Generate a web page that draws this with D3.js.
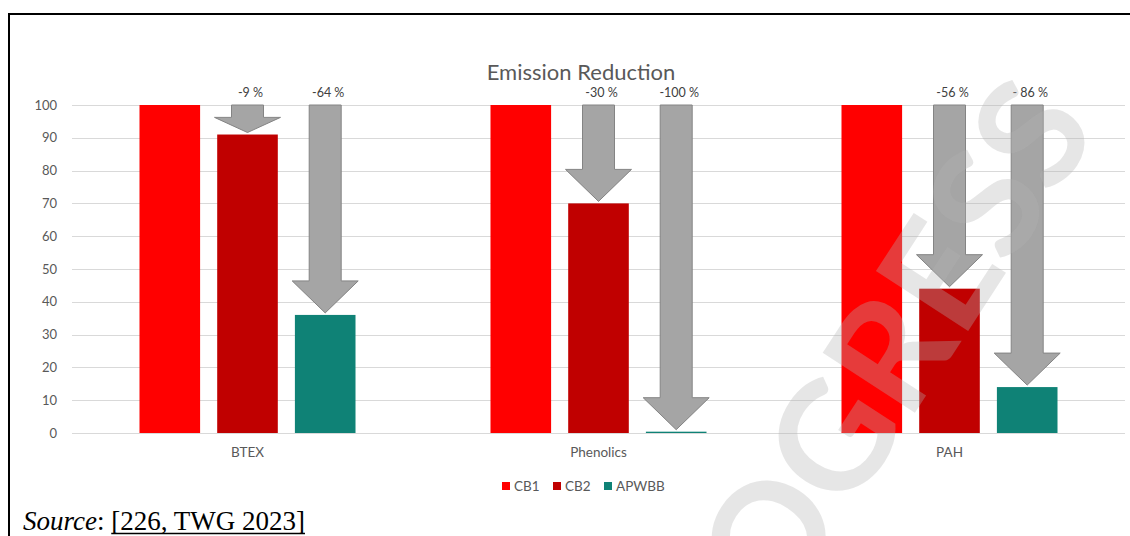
<!DOCTYPE html>
<html>
<head>
<meta charset="utf-8">
<script src="https://cdn.jsdelivr.net/npm/d3@7"></script>
<style>
  html, body { margin: 0; padding: 0; background: #fff; }
  svg { display: block; }
</style>
</head>
<body>
<svg id="chart" width="1130" height="536"></svg>
<script>
// ---- Data ----
const categories = ["BTEX", "Phenolics", "PAH"];
const seriesNames = ["CB1", "CB2", "APWBB"];
const cb1Values = [100, 100, 100];
const cb2Values = [91, 70, 44];
const apwbbValues = [36, 0.4, 14];
const cb2Labels = ["-9 %", "-30 %", "-56 %"];
const apwbbLabels = ["-64 %", "-100 %", "- 86 %"];
const yTicks = [0, 10, 20, 30, 40, 50, 60, 70, 80, 90, 100];
const titleText = "Emission Reduction";
const watermarkText = "PROGRESS";

const colors = { CB1: "#FF0000", CB2: "#C00000", APWBB: "#0F8276" };
const seriesValues = { CB1: cb1Values, CB2: cb2Values, APWBB: apwbbValues };

const svg = d3.select("#chart");
const font = "Lato, 'Open Sans', sans-serif";

// frame
svg.append("rect").attr("x", 9).attr("y", 14).attr("width", 1300).attr("height", 700)
  .attr("fill", "none").attr("stroke", "#000").attr("stroke-width", 2);

// scales
const x0 = d3.scaleBand().domain(categories).range([72, 1125])
  .paddingInner(0.3846).paddingOuter(0.1923);
const x1 = d3.scaleBand().domain(seriesNames).range([0, x0.bandwidth()]).paddingInner(0.22);
const y = d3.scaleLinear().domain([0, 100]).range([433, 105]);

// gridlines
svg.append("g").selectAll("line").data(yTicks).join("line")
  .attr("x1", 72).attr("x2", 1125)
  .attr("y1", d => Math.round(y(d)) + 0.5).attr("y2", d => Math.round(y(d)) + 0.5)
  .attr("stroke", "#D9D9D9").attr("stroke-width", 1);

// y axis labels
const yAxis = d3.axisLeft(y).tickValues(yTicks).tickSize(0).tickPadding(0);
const yg = svg.append("g").attr("transform", "translate(57,0)").call(yAxis);
yg.select(".domain").remove();
yg.selectAll("text").attr("font-family", font).attr("font-size", 13).attr("fill", "#595959");

// x axis labels
const xAxis = d3.axisBottom(x0).tickSize(0).tickPadding(0);
const xg = svg.append("g").attr("transform", "translate(0,447)").call(xAxis);
xg.select(".domain").remove();
xg.selectAll("text").attr("font-family", font).attr("font-size", 13.5).attr("fill", "#595959");

// title
svg.append("text").attr("x", 581).attr("y", 80).attr("text-anchor", "middle")
  .attr("font-family", font).attr("font-size", 22).attr("fill", "#595959").text(titleText);

// bars
const rows = [];
categories.forEach((c, i) => seriesNames.forEach(s => rows.push({ cat: c, s, v: seriesValues[s][i] })));
svg.append("g").selectAll("rect").data(rows).join("rect")
  .attr("x", d => x0(d.cat) + x1(d.s))
  .attr("y", d => y(d.v))
  .attr("width", x1.bandwidth())
  .attr("height", d => Math.max(1, y(0) - y(d.v)))
  .attr("fill", d => colors[d.s]);

// arrows
const arrows = [];
categories.forEach((c, i) => {
  arrows.push({ cat: c, s: "CB2", v: cb2Values[i], label: cb2Labels[i] });
  arrows.push({ cat: c, s: "APWBB", v: apwbbValues[i], label: apwbbLabels[i] });
});
const shaftW = 32, headW = 66;
function arrowPath(d) {
  const cx = x0(d.cat) + x1(d.s) + x1.bandwidth() / 2;
  const top = y(100);
  const tip = y(d.v) - 2;
  const len = tip - top;
  const head = Math.min(32, len * 0.55);
  const hb = tip - head;
  return `M${cx - shaftW / 2},${top} L${cx + shaftW / 2},${top} L${cx + shaftW / 2},${hb} L${cx + headW / 2},${hb} L${cx},${tip} L${cx - headW / 2},${hb} L${cx - shaftW / 2},${hb} Z`;
}
svg.append("g").selectAll("path").data(arrows).join("path")
  .attr("d", arrowPath)
  .attr("fill", "#A5A5A5").attr("stroke", "#848484").attr("stroke-width", 1);

svg.append("g").selectAll("text").data(arrows).join("text")
  .attr("x", d => x0(d.cat) + x1(d.s) + x1.bandwidth() / 2 + 3)
  .attr("y", 97).attr("text-anchor", "middle")
  .attr("font-family", font).attr("font-size", 12.5).attr("fill", "#404040")
  .text(d => d.label);

// legend
const legendX = [502, 553, 604];
const lg = svg.append("g").selectAll("g").data(seriesNames).join("g")
  .attr("transform", (d, i) => `translate(${legendX[i]},486)`);
lg.append("rect").attr("x", 0).attr("y", -4).attr("width", 8).attr("height", 8)
  .attr("fill", d => colors[d]);
lg.append("text").attr("x", 12).attr("y", 5).attr("font-family", font)
  .attr("font-size", 13.5).attr("fill", "#595959").text(d => d);

// source
const src = svg.append("text").attr("x", 23).attr("y", 530)
  .attr("font-family", "'Liberation Serif', 'Times New Roman', serif").attr("font-size", 27).attr("fill", "#000");
src.append("tspan").attr("font-style", "italic").text("Source");
src.append("tspan").text(": ");
const ref = src.append("tspan").text("[226, TWG 2023]");
const srcNode = src.node();
const total = srcNode.getComputedTextLength();
const refLen = ref.node().getComputedTextLength();
svg.append("line").attr("x1", 23 + total - refLen).attr("x2", 23 + total)
  .attr("y1", 533.5).attr("y2", 533.5).attr("stroke", "#000").attr("stroke-width", 1.5);

// watermark
svg.append("text")
  .attr("transform", "translate(1100,128) rotate(-57)")
  .attr("text-anchor", "end")
  .attr("font-family", font).attr("font-weight", 700).attr("font-size", 152)
  .attr("fill", "rgb(178,178,178)").attr("fill-opacity", 0.33)
  .text(watermarkText);
</script>
</body>
</html>
